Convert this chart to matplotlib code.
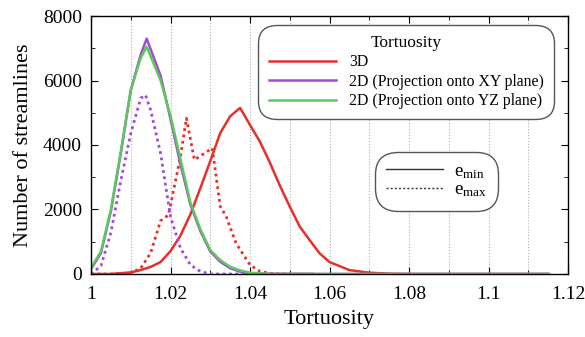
import matplotlib
matplotlib.use('Agg')
import matplotlib.pyplot as plt
import matplotlib.ticker as ticker
from matplotlib.lines import Line2D

plt.rcParams['font.family'] = ['Liberation Serif', 'DejaVu Serif']
plt.rcParams['mathtext.fontset'] = 'custom'
plt.rcParams['mathtext.rm'] = 'Liberation Serif'
plt.rcParams['mathtext.it'] = 'Liberation Serif'

# 3D, e_min (solid)
x_3d_min = [1.0, 1.005, 1.01, 1.0125, 1.015, 1.0175, 1.02, 1.0225, 1.025, 1.0275, 1.03,
            1.0325, 1.035, 1.0375, 1.04, 1.0425, 1.045, 1.0475, 1.05, 1.0525, 1.055,
            1.0575, 1.06, 1.065, 1.07, 1.075, 1.08, 1.115]
y_3d_min = [0, 0, 50, 120, 220, 370, 710, 1190, 1850, 2660, 3500,
            4370, 4890, 5150, 4620, 4100, 3450, 2740, 2090, 1470, 1050,
            640, 370, 120, 40, 10, 0, 0]

# 3D, e_max (dotted)
x_3d_max = [1.0, 1.005, 1.01, 1.0125, 1.015, 1.0175, 1.0195, 1.0225, 1.024, 1.026,
            1.028, 1.0305, 1.0325, 1.034, 1.0365, 1.04, 1.0425, 1.045, 1.05, 1.056]
y_3d_max = [0, 0, 30, 180, 650, 1650, 1830, 3640, 4830, 3540,
            3700, 3900, 2100, 1780, 950, 280, 80, 20, 0, 0]

# 2D XY, e_min (solid)
x_xy_min = [1.0, 1.0025, 1.005, 1.0075, 1.01, 1.0125, 1.014, 1.0175, 1.02, 1.0225,
            1.025, 1.0275, 1.03, 1.0325, 1.035, 1.0375, 1.04, 1.045, 1.08, 1.115]
y_xy_min = [150, 650, 1950, 3750, 5700, 6800, 7300, 6150, 4800, 3400,
            2150, 1330, 700, 380, 180, 70, 20, 0, 0, 0]

# 2D XY, e_max (dotted)
x_xy_max = [1.0, 1.0025, 1.005, 1.0075, 1.01, 1.0125, 1.0137, 1.015, 1.0175, 1.02,
            1.0225, 1.025, 1.0275, 1.03, 1.04, 1.056]
y_xy_max = [0, 250, 1290, 2900, 4360, 5450, 5550, 5080, 3740, 1770,
            800, 280, 80, 0, 0, 0]

# 2D YZ, e_min (solid)
x_yz_min = [1.0, 1.0025, 1.005, 1.0075, 1.01, 1.0125, 1.014, 1.0175, 1.02, 1.0225,
            1.025, 1.0275, 1.03, 1.0325, 1.035, 1.0375, 1.04, 1.045, 1.08, 1.115]
y_yz_min = [190, 700, 2000, 3800, 5700, 6700, 7050, 6000, 4900, 3560,
            2210, 1390, 740, 430, 220, 110, 40, 0, 0, 0]

red = '#e8302a'
purple = '#a24ad6'
green = '#5cc85a'

fig = plt.figure(figsize=(5.85, 3.37), dpi=100)
ax = fig.add_axes([0.1556, 0.187, 0.8154, 0.7655])

l3d, = ax.plot(x_3d_min, y_3d_min, color=red, lw=1.8, label='3D')
ax.plot(x_3d_max, y_3d_max, color=red, lw=2, ls=(0, (1, 1.3)))
ax.plot(x_xy_max, y_xy_max, color=purple, lw=2, ls=(0, (1, 1.3)))
lxy, = ax.plot(x_xy_min, y_xy_min, color=purple, lw=1.8, label='2D (Projection onto XY plane)')
lyz, = ax.plot(x_yz_min, y_yz_min, color=green, lw=1.8, label='2D (Projection onto YZ plane)')

ax.set_xlim(1.0, 1.12)
ax.set_ylim(0, 8000)
ax.xaxis.set_major_locator(ticker.MultipleLocator(0.02))
ax.xaxis.set_minor_locator(ticker.MultipleLocator(0.01))
ax.yaxis.set_major_locator(ticker.MultipleLocator(2000))
ax.yaxis.set_minor_locator(ticker.MultipleLocator(1000))
ax.xaxis.set_major_formatter(ticker.FuncFormatter(lambda t, pos: '{0:g}'.format(round(t, 3))))
ax.tick_params(which='both', direction='in', top=True, right=True, labelsize=14)
ax.tick_params(axis='y', which='major', pad=6.5)
ax.tick_params(axis='x', which='major', pad=8.5)
ax.tick_params(which='major', length=5)
ax.tick_params(which='minor', length=3)
ax.grid(True, which='both', axis='x', ls=':', color='#b0b0b0', lw=0.8)
for s in ax.spines.values():
    s.set_linewidth(1.0)
ax.set_xlabel('Tortuosity', fontsize=16, labelpad=5)
ax.set_ylabel('Number of streamlines', fontsize=16, labelpad=7)

leg1 = ax.legend(handles=[l3d, lxy, lyz], title='Tortuosity', loc='upper right',
                 bbox_to_anchor=(0.980, 0.985), fontsize=11.3, title_fontsize=12.5,
                 handlelength=4.3, labelspacing=0.22, borderpad=0.45, frameon=True)
fr = leg1.get_frame()
fr.set_boxstyle('round', pad=0.2, rounding_size=1.2)
fr.set_edgecolor('#555555')
fr.set_linewidth(1.0)
fr.set_alpha(1)
ax.add_artist(leg1)

h_min = Line2D([], [], color='#333333', lw=1.0, ls='-')
h_max = Line2D([], [], color='#333333', lw=1.0, ls=(0, (1.5, 1.5)))
leg2 = ax.legend(handles=[h_min, h_max], labels=[r'e$_{\rm min}$', r'e$_{\rm max}$'],
                 loc='upper left', bbox_to_anchor=(0.584, 0.496), fontsize=13.5,
                 handlelength=3.0, handletextpad=0.6, labelspacing=0.05, borderpad=0.4,
                 frameon=True)
fr2 = leg2.get_frame()
fr2.set_boxstyle('round', pad=0.2, rounding_size=1.2)
fr2.set_edgecolor('#555555')
fr2.set_linewidth(1.0)
fr2.set_alpha(1)

fig.savefig('out.png', dpi=100)
